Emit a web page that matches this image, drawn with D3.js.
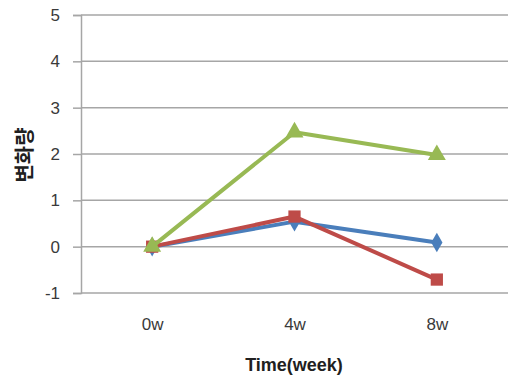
<!DOCTYPE html>
<html>
<head>
<meta charset="utf-8">
<script src="https://cdn.jsdelivr.net/npm/d3@7"></script>
<style>
  html, body { margin: 0; padding: 0; background: #fff; }
  svg { display: block; }
</style>
</head>
<body>
<svg id="chart" width="514" height="381"></svg>
<script>
// Time points and measured change per series
const categories = ["0w", "4w", "8w"];
const seriesBlue  = [0, 0.54, 0.09];
const seriesRed   = [0, 0.65, -0.71];
const seriesGreen = [0, 2.47, 1.98];
const yTicks = [-1, 0, 1, 2, 3, 4, 5];
const xTitle = "Time(week)";
const yTitle = "변화량";

const svg = d3.select("#chart");
const plot = { left: 81, right: 508, top: 15, bottom: 293 };

const x = d3.scalePoint().domain(categories).range([plot.left, plot.right]).padding(0.5);
const y = d3.scaleLinear().domain([-1, 5]).range([plot.bottom, plot.top]);

// horizontal gridlines
svg.append("g")
  .selectAll("line")
  .data(yTicks)
  .join("line")
  .attr("x1", plot.left).attr("x2", plot.right)
  .attr("y1", d => y(d)).attr("y2", d => y(d))
  .attr("stroke", "#a6a6a6").attr("stroke-width", 1.5);

// y axis with outward ticks
const yAxis = svg.append("g")
  .attr("transform", `translate(${plot.left},0)`)
  .call(d3.axisLeft(y).tickValues(yTicks).tickSize(8).tickPadding(13).tickFormat(d => String(d)));
yAxis.select(".domain").attr("stroke", "#a6a6a6").attr("stroke-width", 1.5);
yAxis.selectAll(".tick line").attr("stroke", "#a6a6a6").attr("stroke-width", 1.5);
yAxis.selectAll("text")
  .attr("fill", "#3a3a3a")
  .style("font-family", "'Liberation Sans', Arial, sans-serif")
  .style("font-size", "17px");

// x category labels
const xAxis = svg.append("g")
  .attr("transform", `translate(0,${plot.bottom})`)
  .call(d3.axisBottom(x).tickSize(0).tickPadding(25));
xAxis.select(".domain").remove();
xAxis.selectAll("text")
  .attr("fill", "#3a3a3a")
  .style("font-family", "'Liberation Sans', Arial, sans-serif")
  .style("font-size", "17px");

// axis titles
svg.append("text")
  .attr("x", 294).attr("y", 371)
  .attr("text-anchor", "middle")
  .attr("fill", "#202020")
  .style("font-family", "'Liberation Sans', Arial, sans-serif")
  .style("font-weight", "bold")
  .style("font-size", "18px")
  .text(xTitle);

svg.append("text")
  .attr("transform", "translate(32,155) rotate(-90)")
  .attr("text-anchor", "middle")
  .attr("fill", "#202020")
  .style("font-family", "'Noto Sans CJK KR', sans-serif")
  .style("font-weight", "bold")
  .style("font-size", "20px")
  .text(yTitle);

const line = d3.line().x((d, i) => x(categories[i])).y(d => y(d));

const series = [
  { values: seriesBlue,  color: "#4a7ebb", symbol: d3.symbolDiamond, size: 110 },
  { values: seriesRed,   color: "#be4b48", symbol: d3.symbolSquare,  size: 150 },
  { values: seriesGreen, color: "#98b954", symbol: d3.symbolTriangle, size: 140 }
];

series.forEach(s => {
  const g = svg.append("g");
  g.append("path")
    .datum(s.values)
    .attr("d", line)
    .attr("fill", "none")
    .attr("stroke", s.color)
    .attr("stroke-width", 4)
    .attr("stroke-linejoin", "round");
  g.selectAll("path.mark")
    .data(s.values)
    .join("path")
    .attr("class", "mark")
    .attr("transform", (d, i) => `translate(${x(categories[i])},${y(d)})`)
    .attr("d", d3.symbol().type(s.symbol).size(s.size))
    .attr("fill", s.color);
});
</script>
</body>
</html>
